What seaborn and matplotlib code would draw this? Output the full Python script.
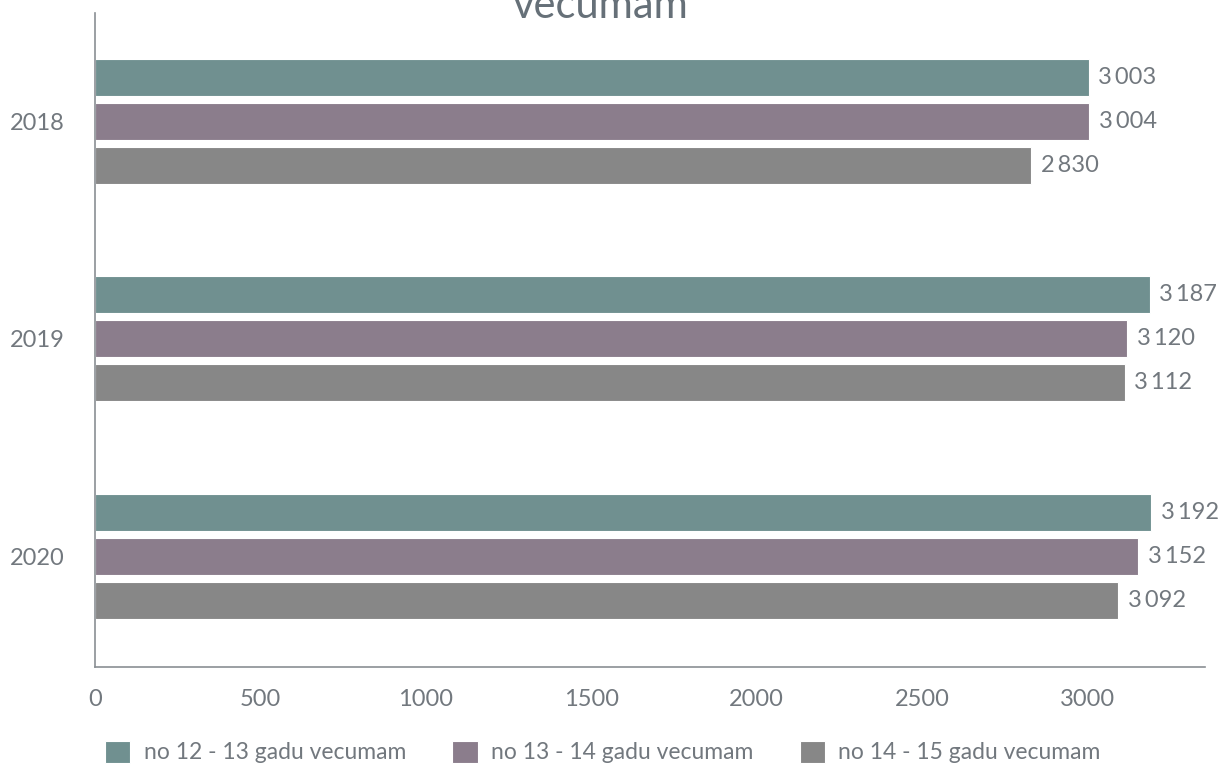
import matplotlib
matplotlib.use('Agg')
import matplotlib.pyplot as plt
import seaborn as sns
import pandas as pd

# data
years = ['2018', '2019', '2020']
groups = ['no 12 - 13 gadu vecumam', 'no 13 - 14 gadu vecumam', 'no 14 - 15 gadu vecumam']
age_12_13 = [3003, 3187, 3192]
age_13_14 = [3004, 3120, 3152]
age_14_15 = [2830, 3112, 3092]
colors = ['#6b9595', '#8d7a8e', '#878787']

data = pd.DataFrame({
    'year': years * 3,
    'group': [groups[0]] * 3 + [groups[1]] * 3 + [groups[2]] * 3,
    'value': age_12_13 + age_13_14 + age_14_15,
})

sns.set_style('white')
plt.rcParams['font.family'] = ['Lato', 'DejaVu Sans']
text_color = '#72787e'

fig = plt.figure(figsize=(12.26, 7.65), dpi=100)
ax = fig.add_axes([0.0775, 0.128, 0.9055, 0.855])

sns.barplot(data=data, y='year', x='value', hue='group', palette=colors,
            orient='h', width=0.607, gap=0.16, edgecolor='white', linewidth=0.8,
            ax=ax, legend=True)

for cont in ax.containers:
    labels = [f'{int(v):,}'.replace(',', '\u2009') for v in cont.datavalues]
    ax.bar_label(cont, labels=labels, padding=7, fontsize=17, color=text_color)

ax.set_xlim(0, 3355)
ax.set_ylim(2.51, -0.497)
ax.set_xlabel('')
ax.set_ylabel('')
ax.set_xticks([0, 500, 1000, 1500, 2000, 2500, 3000])
ax.tick_params(axis='both', length=0, labelsize=17, colors=text_color)
ax.tick_params(axis='x', pad=16)
ax.tick_params(axis='y', pad=22)
for s in ['top', 'right']:
    ax.spines[s].set_visible(False)
for s in ['left', 'bottom']:
    ax.spines[s].set_color('#8a8f94')
    ax.spines[s].set_linewidth(1.2)

ax.legend(loc='center', bbox_to_anchor=(0.5 - 10 / 1226, 1 - 752 / 765),
          bbox_transform=fig.transFigure, ncol=3, frameon=False, fontsize=16.5,
          labelcolor=text_color, handlelength=1.1, handleheight=1.1,
          columnspacing=2.0, handletextpad=0.6)

fig.text(0.49, 1 - 18 / 765, 'vecumam', ha='center', va='baseline', fontsize=30, color='#667078')

fig.savefig('out.png', dpi=100)
